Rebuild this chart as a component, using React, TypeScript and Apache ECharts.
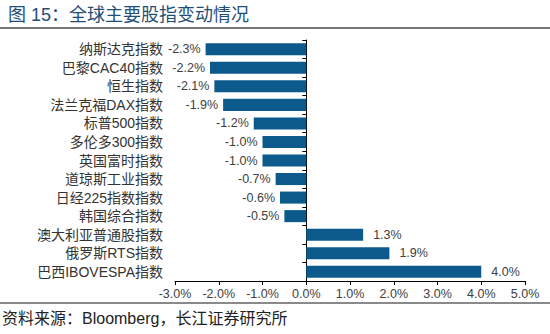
import React, { useEffect, useRef } from "react";
import * as echarts from "echarts";

const categories = [
  "纳斯达克指数",
  "巴黎CAC40指数",
  "恒生指数",
  "法兰克福DAX指数",
  "标普500指数",
  "多伦多300指数",
  "英国富时指数",
  "道琼斯工业指数",
  "日经225指数指数",
  "韩国综合指数",
  "澳大利亚普通股指数",
  "俄罗斯RTS指数",
  "巴西IBOVESPA指数",
];
const values = [-2.3, -2.2, -2.1, -1.9, -1.2, -1.0, -1.0, -0.7, -0.6, -0.5, 1.3, 1.9, 4.0];
const titleText = "图 15：全球主要股指变动情况";
const sourceText = "资料来源：Bloomberg，长江证券研究所";

const FONT = "'Liberation Sans', 'Noto Sans CJK SC', sans-serif";

export default function App() {
  const ref = useRef<HTMLDivElement>(null);
  useEffect(() => {
    document.body.style.margin = "0";
    const chart = echarts.init(ref.current!, null, { renderer: "svg" });
    chart.setOption({
      animation: false,
      backgroundColor: "#ffffff",
      textStyle: { fontFamily: FONT },
      title: {
        text: titleText,
        left: 3,
        top: 1,
        textStyle: { fontFamily: FONT, fontSize: 18, fontWeight: "normal", color: "#1f4e79" },
      },
      graphic: [
        { type: "line", shape: { x1: 0, y1: 28, x2: 550, y2: 28 }, style: { stroke: "#4a4a4a", lineWidth: 1.5 } },
        { type: "line", shape: { x1: 0, y1: 303, x2: 550, y2: 303 }, style: { stroke: "#8a8a8a", lineWidth: 2 } },
        {
          type: "text",
          left: 2,
          top: 310,
          style: { text: sourceText, fontFamily: FONT, fontSize: 16, fill: "#222222" },
        },
      ],
      grid: { left: 175, right: 25, top: 40, bottom: 53, containLabel: false },
      xAxis: {
        type: "value",
        min: -3,
        max: 5,
        interval: 1,
        axisLine: { show: true, lineStyle: { color: "#000000", width: 1 } },
        axisTick: { show: true, length: 4, inside: false, lineStyle: { color: "#000000" } },
        splitLine: { show: false },
        axisLabel: {
          formatter: (v: number) => v.toFixed(1) + "%",
          fontSize: 12.5,
          color: "#404040",
          margin: 7,
          fontFamily: FONT,
        },
      },
      yAxis: [
        {
          type: "category",
          data: categories,
          inverse: true,
          position: "left",
          axisLine: { show: false, onZero: false },
          axisTick: { show: false },
          axisLabel: { fontSize: 14, color: "#333333", margin: 12, fontFamily: FONT },
        },
        {
          type: "category",
          data: categories,
          inverse: true,
          position: "left",
          axisLine: { show: true, onZero: true, lineStyle: { color: "#000000", width: 1 } },
          axisTick: { show: true, length: 4, lineStyle: { color: "#000000" } },
          axisLabel: { show: false },
        },
      ],
      series: [
        {
          type: "bar",
          yAxisIndex: 0,
          barWidth: "65%",
          itemStyle: { color: "#0c5a8c" },
          data: values.map((v) => ({
            value: v,
            label: {
              show: true,
              position: v < 0 ? "left" : "right",
              distance: v < 0 ? 5 : 10,
              formatter: v.toFixed(1) + "%",
              fontSize: 12.5,
              color: "#404040",
              fontFamily: FONT,
            },
          })),
        },
      ],
    });
    return () => chart.dispose();
  }, []);
  return <div ref={ref} style={{ width: 550, height: 334 }} />;
}
